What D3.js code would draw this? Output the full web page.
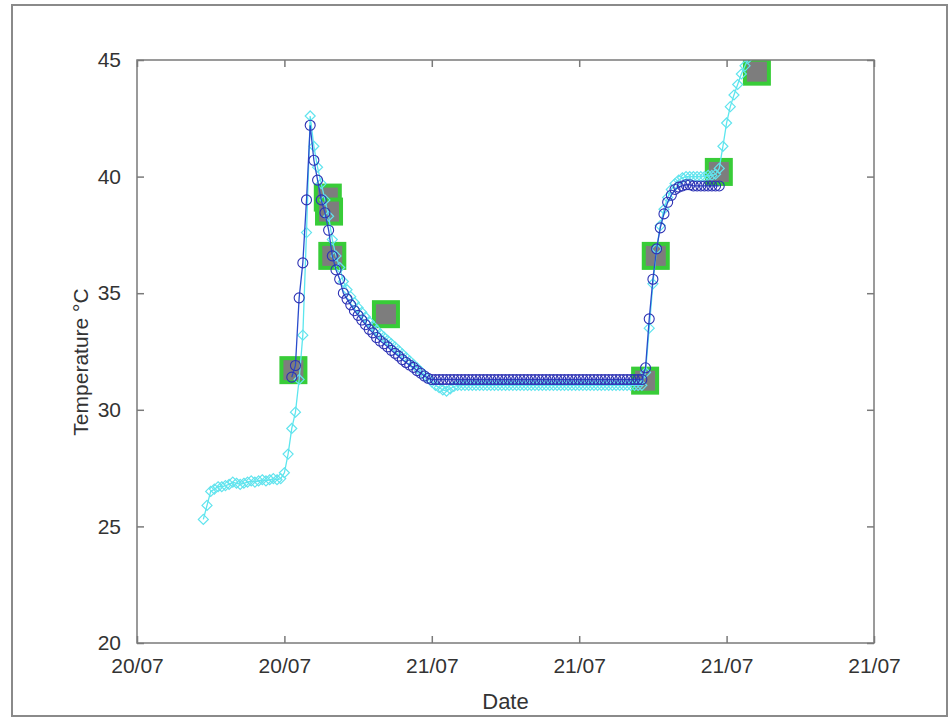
<!DOCTYPE html>
<html>
<head>
<meta charset="utf-8">
<script src="https://cdn.jsdelivr.net/npm/d3@7"></script>
<style>
  body { margin: 0; background: #fff; }
  text { font-family: "Liberation Sans", Arial, sans-serif; fill: #333; }
</style>
</head>
<body>
<script>
// sensor log, one reading every 9 minutes
const sampleStepMin = 9;
const rawStart = '2020-07-20T14:42';
const rawTemps = [
  25.3, 25.9, 26.5, 26.6, 26.7, 26.7, 26.75, 26.8, 26.9, 26.85, 26.8, 26.85,
  26.9, 26.95, 26.9, 26.95, 27.0, 26.95, 27.0, 27.05, 27.0, 27.05, 27.3, 28.1,
  29.2, 29.9, 31.3, 33.2, 37.6, 42.6,
  41.3, 40.4, 39.7, 39.0, 38.3, 37.3, 36.6, 36.1, 35.5, 35.15, 34.85, 34.6,
  34.38, 34.18, 33.98, 33.78, 33.6, 33.42, 33.26, 33.12, 32.98, 32.84, 32.7, 32.55,
  32.4, 32.25, 32.1, 31.95, 31.8, 31.65, 31.5, 31.35, 31.2, 31.05, 30.95, 30.85,
  30.8, 30.9, 31.0,
  31.05, 31.05, 31.05, 31.05, 31.05, 31.05, 31.05, 31.05, 31.05, 31.05, 31.05, 31.05,
  31.05, 31.05, 31.05, 31.05, 31.05, 31.05, 31.05, 31.05, 31.05, 31.05, 31.05, 31.05,
  31.05, 31.05, 31.05, 31.05, 31.05, 31.05, 31.05, 31.05, 31.05, 31.05, 31.05, 31.05,
  31.05, 31.05, 31.05, 31.05, 31.05, 31.05, 31.05, 31.05, 31.05, 31.05, 31.05, 31.05,
  31.05, 31.05, 31.05,
  31.6, 33.5, 35.4, 36.9, 37.9, 38.6, 39.1, 39.45, 39.7, 39.85, 39.95, 40.0,
  40.0, 40.0, 40.0, 40.0, 40.0, 40.05, 40.05,
  40.1, 40.35, 41.3, 42.3, 43.0, 43.5, 43.95, 44.4, 44.75, 45.1, 45.5
];

// smoothed estimate
const fitStart = '2020-07-20T18:18';
const fitTemps = [
  31.4, 31.9, 34.8, 36.3, 39.0, 42.2,
  40.7, 39.85, 39.0, 38.45, 37.7, 36.6, 36.0,
  35.6, 35.0, 34.75, 34.5, 34.25, 34.05, 33.85, 33.65, 33.45, 33.3, 33.1, 32.95,
  32.83, 32.7, 32.55, 32.42, 32.3, 32.15, 32.03, 31.92, 31.82, 31.68, 31.57, 31.45, 31.35,
  31.3, 31.3, 31.3, 31.3, 31.3, 31.3, 31.3, 31.3, 31.3, 31.3, 31.3, 31.3,
  31.3, 31.3, 31.3, 31.3, 31.3, 31.3, 31.3, 31.3, 31.3, 31.3, 31.3, 31.3,
  31.3, 31.3, 31.3, 31.3, 31.3, 31.3, 31.3, 31.3, 31.3, 31.3, 31.3, 31.3,
  31.3, 31.3, 31.3, 31.3, 31.3, 31.3, 31.3, 31.3, 31.3, 31.3, 31.3, 31.3,
  31.3, 31.3, 31.3, 31.3, 31.3, 31.3, 31.3, 31.3, 31.3, 31.3,
  31.8, 33.9, 35.6, 36.9, 37.8, 38.4, 38.9, 39.2, 39.45, 39.55, 39.6, 39.65,
  39.65, 39.6, 39.6, 39.6, 39.6, 39.6, 39.6, 39.6, 39.6
];

// marked events
const eventTimes = [
  '2020-07-20T18:22', '2020-07-20T19:46', '2020-07-20T19:49', '2020-07-20T19:57',
  '2020-07-20T22:08', '2020-07-21T08:41', '2020-07-21T09:07', '2020-07-21T11:41',
  '2020-07-21T13:14'
];
const eventTemps = [31.7, 39.1, 38.5, 36.6, 34.1, 31.25, 36.6, 40.2, 44.5];

const xRange = ['2020-07-20T12:00', '2020-07-21T18:00'];
const yRange = [20, 45];
const xLabel = 'Date', yLabel = 'Temperature °C';

let width = 951, height = 720;
let margin = {top: 60, right: 77, bottom: 77, left: 137};
let parseTime = d3.timeParse('%Y-%m-%dT%H:%M');

function series(start, temps) {
  let t0 = parseTime(start);
  return temps.map((v, i) => ({t: d3.timeMinute.offset(t0, i * sampleStepMin), v: v}));
}

let raw = series(rawStart, rawTemps),
  fit = series(fitStart, fitTemps),
  events = eventTimes.map((s, i) => ({t: parseTime(s), v: eventTemps[i]}));

let svg = d3.select('body').append('svg')
  .attr('width', width).attr('height', height);

// outer frame
svg.append('rect')
  .attr('x', 12).attr('y', 5).attr('width', 935).attr('height', 711)
  .attr('fill', 'none').attr('stroke', '#8a8a8a').attr('stroke-width', 2);

let x = d3.scaleTime()
  .domain(xRange.map(parseTime))
  .range([margin.left, width - margin.right]);
let y = d3.scaleLinear()
  .domain(yRange)
  .range([height - margin.bottom, margin.top]);

svg.append('clipPath').attr('id', 'plot')
  .append('rect')
  .attr('x', margin.left).attr('y', margin.top)
  .attr('width', width - margin.left - margin.right)
  .attr('height', height - margin.top - margin.bottom);

let g = svg.append('g').attr('clip-path', 'url(#plot)');

/*
 * marks
 */

g.selectAll('.event')
  .data(events)
  .join('rect')
  .attr('class', 'event')
  .attr('x', d => x(d.t) - 12).attr('y', d => y(d.v) - 12)
  .attr('width', 24).attr('height', 24)
  .attr('fill', '#7d7d7d').attr('stroke', '#38cc38').attr('stroke-width', 4);

let line = d3.line().x(d => x(d.t)).y(d => y(d.v));

g.append('path')
  .datum(raw)
  .attr('d', line)
  .attr('fill', 'none').attr('stroke', '#5ce6ee').attr('stroke-width', 1.3);

g.selectAll('.raw')
  .data(raw)
  .join('path')
  .attr('class', 'raw')
  .attr('transform', d => 'translate(' + x(d.t) + ',' + y(d.v) + ')')
  .attr('d', 'M0,-5L5,0L0,5L-5,0Z')
  .attr('fill', 'none').attr('stroke', '#62e4ee').attr('stroke-width', 1.2);

g.append('path')
  .datum(fit)
  .attr('d', line)
  .attr('fill', 'none').attr('stroke', '#2a4ccc').attr('stroke-width', 1.3);

g.selectAll('.fit')
  .data(fit)
  .join('circle')
  .attr('class', 'fit')
  .attr('cx', d => x(d.t)).attr('cy', d => y(d.v))
  .attr('r', 5)
  .attr('fill', 'none').attr('stroke', '#2d32b4').attr('stroke-width', 1.1);

/*
 * axes, matlab style box with inward ticks
 */

let tickLen = 7;
let xAxis = d3.axisBottom(x)
  .ticks(d3.timeHour.every(6))
  .tickFormat(d3.timeFormat('%d/%m'))
  .tickSizeInner(-tickLen).tickSizeOuter(0).tickPadding(15);
let yAxis = d3.axisLeft(y)
  .ticks(5)
  .tickSizeInner(-tickLen).tickSizeOuter(0).tickPadding(16);

function styleAxis(sel) {
  sel.select('.domain').remove();
  sel.selectAll('.tick line').attr('stroke', '#7a7a7a').attr('stroke-width', 1.5);
  sel.selectAll('.tick text')
    .attr('fill', '#333')
    .style('font-family', '"Liberation Sans", Arial, sans-serif')
    .style('font-size', '21px');
}

svg.append('g')
  .attr('transform', 'translate(0,' + (height - margin.bottom) + ')')
  .call(xAxis).call(styleAxis);
svg.append('g')
  .attr('transform', 'translate(' + margin.left + ',0)')
  .call(yAxis).call(styleAxis);

// top and right ticks, no labels
svg.append('g')
  .attr('transform', 'translate(0,' + margin.top + ')')
  .call(d3.axisTop(x).ticks(d3.timeHour.every(6)).tickFormat('').tickSizeInner(-tickLen).tickSizeOuter(0))
  .call(styleAxis);
svg.append('g')
  .attr('transform', 'translate(' + (width - margin.right) + ',0)')
  .call(d3.axisRight(y).ticks(5).tickFormat('').tickSizeInner(-tickLen).tickSizeOuter(0))
  .call(styleAxis);

svg.append('rect')
  .attr('x', margin.left).attr('y', margin.top)
  .attr('width', width - margin.left - margin.right)
  .attr('height', height - margin.top - margin.bottom)
  .attr('fill', 'none').attr('stroke', '#7a7a7a').attr('stroke-width', 1.5);

svg.append('text')
  .attr('x', (margin.left + width - margin.right) / 2).attr('y', 709)
  .attr('text-anchor', 'middle')
  .style('font-size', '22px')
  .text(xLabel);

svg.append('text')
  .attr('transform', 'translate(88,' + 362 + ') rotate(-90)')
  .attr('text-anchor', 'middle')
  .style('font-size', '21px')
  .text(yLabel);
</script>
</body>
</html>
